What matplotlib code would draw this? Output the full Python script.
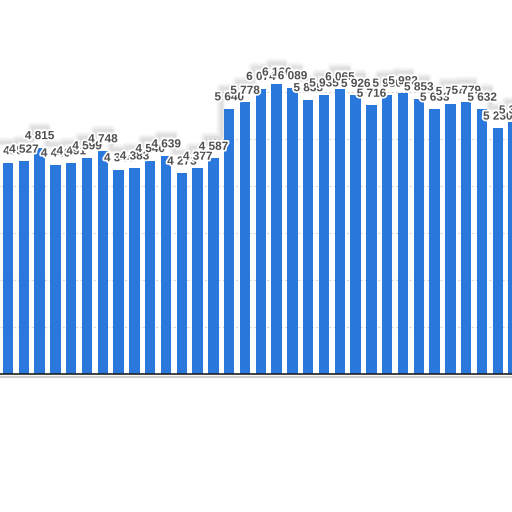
import matplotlib
matplotlib.use("Agg")
import matplotlib.pyplot as plt
import matplotlib.patheffects as pe

# values, left to right (last bar is cut by the frame)
values = [4495, 4527, 4815, 4446, 4491, 4599, 4748, 4344, 4383, 4540,
          4639, 4273, 4377, 4587, 5640, 5778, 6074, 6166, 6089, 5835,
          5935, 6065, 5926, 5716, 5930, 5982, 5853, 5633, 5754, 5779,
          5632, 5230, 5360]
labels = [f"{v:,}".replace(",", " ") for v in values]
positions = list(range(len(values)))

bar_color = "#2b78dc"
y_max = 7957

fig = plt.figure(figsize=(5.12, 5.12), dpi=100)
ax = fig.add_axes([0, 0.2695, 1, 0.7305])

ax.bar(positions, values, width=0.66, color=bar_color, zorder=2)

# data labels with a white halo
for x, v, t in zip(positions, values, labels):
    ax.annotate(t, (x, v), xytext=(0, 4), textcoords="offset points",
                ha="center", va="bottom", fontsize=8.5, fontweight="bold",
                family=["Liberation Sans", "DejaVu Sans"], color="#505050",
                path_effects=[pe.withStroke(linewidth=2.5, foreground="white")],
                zorder=5, annotation_clip=False)

# torn-off top: white above the label skyline with a soft grey edge
sky_x = [-1] + positions + [len(values)]
sky_y = [values[0] + 450] + [v + 450 for v in values] + [values[-1] + 450]
ax.fill_between(sky_x, sky_y, y_max, step="mid", color="white", zorder=3)
for lw, a in [(7, 0.05), (4.5, 0.08), (2.5, 0.12)]:
    ax.step(sky_x, sky_y, where="mid", color="#808080", alpha=a,
            linewidth=lw, zorder=3)

ax.set_xlim(-0.506, 31.9)
ax.set_ylim(0, y_max)
ax.set_yticks(range(1000, 8000, 1000))
ax.grid(axis="y", color="#d8d8d8", linestyle=(0, (2, 2)), linewidth=0.8, zorder=1)
ax.set_xticks([])
ax.tick_params(left=False, labelleft=False)
for side in ["top", "right", "left"]:
    ax.spines[side].set_visible(False)
ax.spines["bottom"].set_color("#222222")
ax.spines["bottom"].set_linewidth(1.2)

# pale line just under the baseline
fig.add_artist(plt.Line2D([0, 1], [0.2635, 0.2635], color="#cfcfcf", linewidth=1.5))

fig.savefig("out.png", dpi=100)
